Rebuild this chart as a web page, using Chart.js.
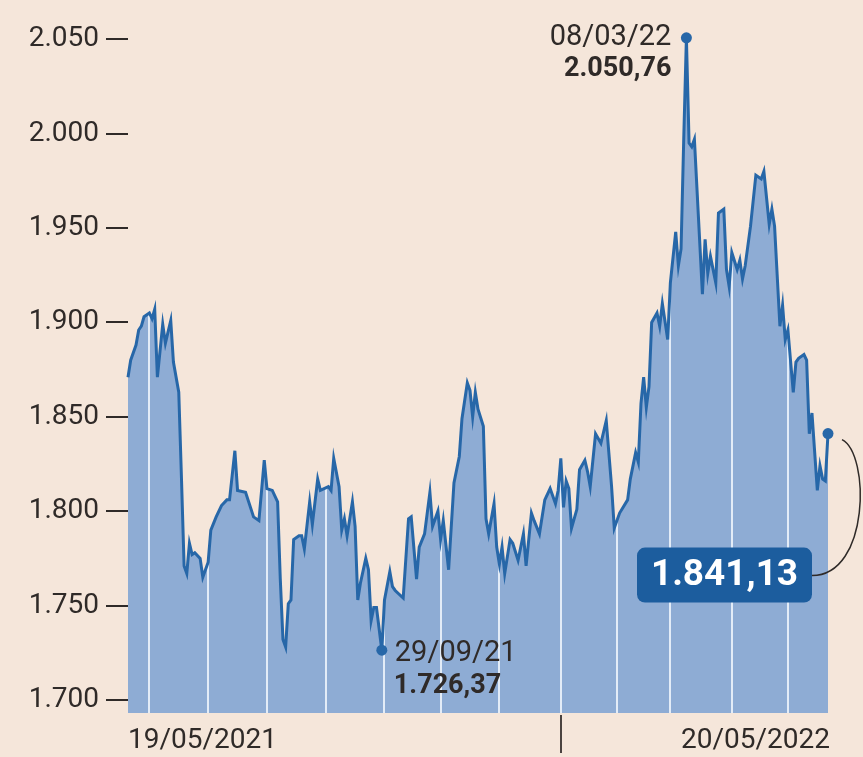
<!DOCTYPE html>
<html>
<head>
<meta charset="utf-8">
<script src="https://cdn.jsdelivr.net/npm/chart.js@4/dist/chart.umd.min.js"></script>
<style>
  html, body { margin: 0; padding: 0; background: #f5e6da; }
  #wrap { width: 863px; height: 757px; position: relative; }
</style>
</head>
<body>
<div id="wrap"><canvas id="chart"></canvas></div>
<script>
// trading session index (0 = 19/05/2021 ... 262 = 20/05/2022) and closes
const sessions = [
  0, 1, 3, 4, 5, 6, 8, 9, 10, 11, 13, 14, 15, 16, 17, 19, 20, 21, 22, 23,
  24, 25, 27, 28, 30, 31, 33, 35, 37, 38, 40, 41, 44, 47, 49, 51, 52, 54, 56, 57,
  58, 59, 60, 61, 62, 64, 65, 66, 68, 69, 71, 72, 75, 76, 77, 79, 80, 81, 82, 84,
  85, 86, 87, 89, 90, 91, 92, 93, 95, 96, 98, 99, 100, 103, 105, 106, 108, 109, 111, 113,
  114, 116, 117, 118, 120, 122, 124, 125, 127, 128, 129, 130, 131, 133, 134, 135, 137, 138, 139, 140,
  141, 143, 144, 146, 148, 149, 151, 152, 154, 156, 158, 160, 161, 162, 163, 164, 165, 166, 168, 169,
  171, 172, 173, 175, 177, 179, 181, 182, 184, 187, 188, 190, 191, 192, 193, 194, 195, 196, 198, 199,
  200, 202, 203, 205, 206, 207, 208, 209, 210, 211, 212, 215, 216, 217, 218, 220, 221, 223, 224, 225,
  226, 228, 229, 230, 231, 233, 235, 237, 238, 240, 241, 242, 244, 245, 246, 247, 249, 250, 251, 253,
  254, 255, 256, 258, 259, 260, 261, 262
];
const closes = [
  1871, 1880, 1888, 1896, 1898, 1903, 1905, 1902, 1907, 1871, 1899, 1889, 1895, 1901, 1879, 1863, 1818, 1771, 1767, 1783,
  1777, 1778, 1775, 1765, 1773, 1790, 1797, 1803, 1806, 1806, 1832, 1811, 1810, 1797, 1795, 1827, 1812, 1811, 1805, 1764,
  1732, 1728, 1751, 1753, 1785, 1787, 1787, 1780, 1805, 1793, 1817, 1811, 1813, 1811, 1828, 1813, 1790, 1796, 1787, 1805,
  1792, 1753, 1762, 1775, 1769, 1742, 1749, 1749, 1726.37, 1753, 1768, 1760, 1758, 1754, 1796, 1797, 1764, 1781, 1788, 1810,
  1792, 1800, 1785, 1795, 1769, 1815, 1829, 1849, 1868, 1864, 1850, 1863, 1854, 1845, 1796, 1788, 1804, 1781, 1772, 1781,
  1767, 1785, 1783, 1774, 1788, 1771, 1799, 1795, 1788, 1806, 1812, 1804, 1811, 1828, 1802, 1816, 1812, 1791, 1801, 1822,
  1827, 1821, 1813, 1841, 1836, 1848, 1813, 1791, 1799, 1806, 1817, 1831, 1826, 1857, 1871, 1855, 1866, 1900, 1905, 1898,
  1910, 1891, 1921, 1948, 1930, 1939, 1997, 2050.76, 1995, 1993, 1997, 1915, 1944, 1926, 1935, 1921, 1958, 1960, 1928, 1919,
  1937, 1928, 1933, 1923, 1930, 1951, 1978, 1976, 1980, 1952, 1960, 1951, 1898, 1909, 1891, 1896, 1863, 1879, 1881, 1883,
  1880, 1841, 1852, 1811, 1824, 1817, 1816, 1841.13
];
const yTicks = [1700, 1750, 1800, 1850, 1900, 1950, 2000, 2050];
const monthEnds = [8, 30, 52, 74, 96, 117, 139, 162, 183, 203, 226, 247];
const yearBreak = 162;
const firstLabel = "19/05/2021";
const lastLabel = "20/05/2022";
const minPoint = { session: 95, date: "29/09/21", value: 1726.37 };
const maxPoint = { session: 209, date: "08/03/22", value: 2050.76 };
const lastPoint = { session: 262, value: 1841.13 };

const FONT = "Roboto, sans-serif";
const INK = "#2f2a28";
const LINE = "#2767a8";
const FILL = "#8eacd4";

function itNum(v, dec) {
  const [i, d] = v.toFixed(dec).split(".");
  return i.replace(/\B(?=(\d{3})+(?!\d))/g, ".") + (d ? "," + d : "");
}

const points = sessions.map((s, i) => ({ x: s, y: closes[i] }));
const marks = [minPoint, maxPoint, lastPoint].map(m => sessions.indexOf(m.session));

// white month lines, only under the curve
const monthLines = {
  id: "monthLines",
  afterDatasetDraw(chart, args) {
    if (args.index !== 1) return;
    const pts = args.meta.data;
    const { ctx, chartArea } = chart;
    const x = chart.scales.x;
    ctx.save();
    ctx.beginPath();
    ctx.moveTo(pts[0].x, chartArea.bottom);
    pts.forEach(p => ctx.lineTo(p.x, p.y));
    ctx.lineTo(pts[pts.length - 1].x, chartArea.bottom);
    ctx.closePath();
    ctx.clip();
    ctx.strokeStyle = "#e3ecf7";
    ctx.lineWidth = 2;
    monthEnds.forEach(s => {
      const px = Math.round(x.getPixelForValue(s));
      ctx.beginPath();
      ctx.moveTo(px, chartArea.top);
      ctx.lineTo(px, chartArea.bottom);
      ctx.stroke();
    });
    ctx.restore();
  }
};

const notes = {
  id: "notes",
  afterDraw(chart) {
    const { ctx, chartArea } = chart;
    const x = chart.scales.x, y = chart.scales.y;
    ctx.save();
    ctx.fillStyle = INK;
    ctx.textBaseline = "middle";

    // x labels + year tick
    ctx.font = `28px ${FONT}`;
    ctx.textAlign = "left";
    ctx.fillText(firstLabel, x.getPixelForValue(0), 741);
    ctx.textAlign = "right";
    ctx.fillText(lastLabel, x.getPixelForValue(262) + 2, 741);
    const yb = Math.round(x.getPixelForValue(yearBreak));
    ctx.strokeStyle = "#4a4340";
    ctx.lineWidth = 2;
    ctx.beginPath();
    ctx.moveTo(yb, chartArea.bottom + 2);
    ctx.lineTo(yb, chartArea.bottom + 40);
    ctx.stroke();

    // max
    const mx = x.getPixelForValue(maxPoint.session), my = y.getPixelForValue(maxPoint.value);
    ctx.textAlign = "right";
    ctx.font = `29px ${FONT}`;
    ctx.fillText(maxPoint.date, mx - 15, my);
    ctx.font = `bold 27px ${FONT}`;
    ctx.fillText(itNum(maxPoint.value, 2), mx - 15, my + 31);

    // min
    const nx = x.getPixelForValue(minPoint.session), ny = y.getPixelForValue(minPoint.value);
    ctx.textAlign = "left";
    ctx.font = `29px ${FONT}`;
    ctx.fillText(minPoint.date, nx + 13, ny + 4);
    ctx.font = `bold 27px ${FONT}`;
    ctx.fillText(itNum(minPoint.value, 2), nx + 12, ny + 36);

    // last value box + connector
    const lx = x.getPixelForValue(lastPoint.session), ly = y.getPixelForValue(lastPoint.value);
    const bx = lx - 191, by = ly + 114, bw = 175, bh = 55;
    ctx.strokeStyle = "#2f2a28";
    ctx.lineWidth = 1.5;
    ctx.beginPath();
    ctx.moveTo(lx + 14, ly + 6);
    ctx.bezierCurveTo(lx + 42, ly + 20, lx + 42, by + 28, bx + bw, by + 28);
    ctx.stroke();
    ctx.fillStyle = "#1c5d9e";
    ctx.beginPath();
    ctx.roundRect(bx, by, bw, bh, 8);
    ctx.fill();
    ctx.fillStyle = "#ffffff";
    ctx.textAlign = "center";
    ctx.font = `bold 37px ${FONT}`;
    ctx.fillText(itNum(lastPoint.value, 2), bx + bw / 2, by + bh / 2 + 1);
    ctx.restore();
  }
};

new Chart(document.getElementById("chart"), {
  type: "line",
  data: {
    datasets: [
      {
        data: points,
        borderColor: LINE,
        borderWidth: 3,
        fill: false,
        tension: 0,
        clip: false,
        pointRadius: ctx => (marks.includes(ctx.dataIndex) ? 5.5 : 0),
        pointBackgroundColor: LINE,
        pointBorderWidth: 0,
        order: 0,
      },
      {
        data: points,
        borderWidth: 0,
        borderColor: "rgba(0,0,0,0)",
        backgroundColor: FILL,
        fill: "start",
        tension: 0,
        pointRadius: 0,
        order: 1,
      },
    ],
  },
  options: {
    responsive: true,
    maintainAspectRatio: false,
    animation: false,
    layout: { padding: { top: 30, right: 35, bottom: 44, left: 0 } },
    plugins: { legend: { display: false }, tooltip: { enabled: false } },
    scales: {
      x: { type: "linear", display: false, min: 0, max: 262 },
      y: {
        min: 1693.1,
        max: 2054.9,
        afterFit: s => { s.width = 128; },
        afterBuildTicks: s => { s.ticks = yTicks.map(v => ({ value: v })); },
        grid: { drawOnChartArea: false, drawTicks: true, tickLength: 22, color: INK, lineWidth: 2 },
        border: { display: false },
        ticks: { padding: 7, color: INK, font: { family: FONT, size: 28 }, callback: v => itNum(v, 0) },
      },
    },
  },
  plugins: [monthLines, notes],
});
</script>
</body>
</html>
